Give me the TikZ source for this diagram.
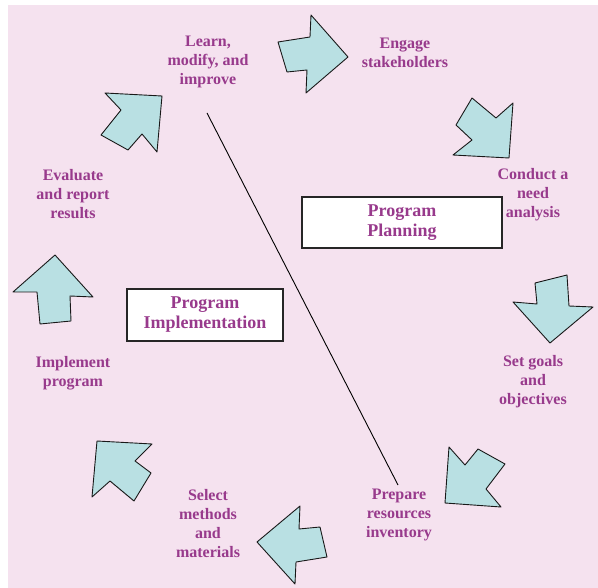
\documentclass[tikz,border=0pt]{standalone}
\usepackage{fontspec}
\setmainfont{Liberation Serif}
\usepackage{xcolor}
\definecolor{bgpink}{RGB}{245,226,239}
\definecolor{arrowcyan}{RGB}{185,224,227}
\definecolor{labelpurple}{RGB}{152,58,140}

\begin{document}
\begin{tikzpicture}[x=1pt, y=-1pt,
    stage/.style={font=\fontsize{16}{19}\selectfont\bfseries, text=labelpurple, align=center, inner sep=0pt},
    phase/.style={draw=black!85, line width=1.2pt, fill=white, font=\fontsize{18}{20}\selectfont\bfseries, text=labelpurple, align=center, inner sep=0pt},
    cyclearrow/.style={draw=black!90, line width=0.9pt, fill=arrowcyan, line join=round}]
        % Background
        \useasboundingbox (0,0) rectangle (598,588);
        \fill[bgpink] (8,5) rectangle (598,588);

        % Divider
        \coordinate (divtop) at (207,113);
        \coordinate (divbot) at (398,485);
        \draw[line width=0.9pt] (divtop) -- (divbot);

        % Phases
        \node[phase, minimum width=200pt, minimum height=51pt] (planning) at (402,222.5) {Program\\Planning};
        \node[phase, minimum width=156pt, minimum height=52pt] (implementation) at (205,315) {Program\\Implementation};

        % Steps
        \node[stage] (learn) at (208,62) {Learn,\\modify, and\\improve};
        \node[stage] (engage) at (405,52.5) {Engage\\stakeholders};
        \node[stage] (conduct) at (533,194.5) {Conduct a\\need\\analysis};
        \node[stage] (goals) at (533,381.5) {Set goals\\and\\objectives};
        \node[stage] (prepare) at (399,514.5) {Prepare\\resources\\inventory};
        \node[stage] (select) at (208,523.5) {Select\\methods\\and\\materials};
        \node[stage] (implement) at (73,373.5) {Implement\\program};
        \node[stage] (evaluate) at (73,194.5) {Evaluate\\and report\\results};

        % Cycle arrows
        \draw[cyclearrow] (278,42) -- (310,37) -- (311,15) -- (348,57) -- (306,93) -- (307,70) -- (287,72) -- cycle;
        \draw[cyclearrow] (472,98) -- (496,118) -- (513,103) -- (509,158) -- (453,155) -- (472,140) -- (456,125) -- cycle;
        \draw[cyclearrow] (535,283) -- (567,275) -- (569,306) -- (593,307) -- (550,343) -- (513,302) -- (537,304) -- cycle;
        \draw[cyclearrow] (449,447) -- (465,465) -- (478,449) -- (505,464) -- (486,489) -- (501,507) -- (445,503) -- cycle;
        \draw[cyclearrow] (257,542) -- (300,506) -- (299,529) -- (320,527) -- (327,557) -- (296,562) -- (295,584) -- cycle;
        \draw[cyclearrow] (97,441) -- (152,444) -- (135,461) -- (151,473) -- (134,501) -- (110,481) -- (92,497) -- cycle;
        \draw[cyclearrow] (55,255) -- (93,297) -- (70,296) -- (71,321) -- (40,324) -- (37,292) -- (13,292) -- cycle;
        \draw[cyclearrow] (105,93) -- (162,96) -- (157,152) -- (142,134) -- (128,150) -- (101,135) -- (121,110) -- cycle;
\end{tikzpicture}
\end{document}
